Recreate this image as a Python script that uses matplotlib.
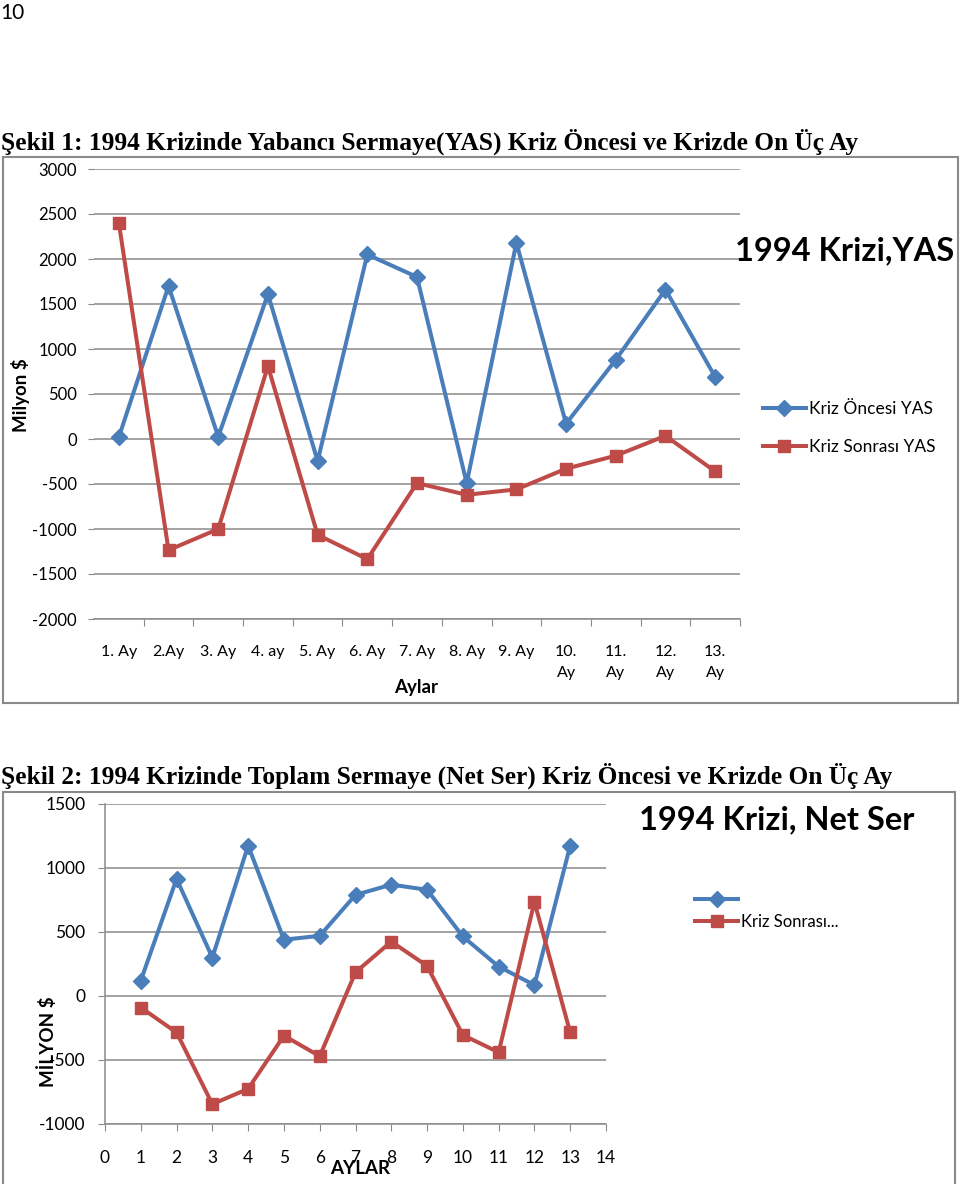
import numpy as np
import matplotlib
matplotlib.use("Agg")
import matplotlib.pyplot as plt
from matplotlib.patches import Rectangle

# figure 1: yabanci sermaye (YAS), milyon $
ay_etiket = ["1. Ay", "2.Ay", "3. Ay", "4. ay", "5. Ay", "6. Ay", "7. Ay",
             "8. Ay", "9. Ay", "10.\nAy", "11.\nAy", "12.\nAy", "13.\nAy"]
yas_oncesi = [20, 1700, 25, 1610, -245, 2050, 1800, -490, 2180, 170, 880, 1660, 690]
yas_sonrasi = [2400, -1235, -1000, 810, -1065, -1335, -490, -620, -560, -330, -185, 35, -360]

# figure 2: toplam sermaye (Net Ser), milyon $
ay_no = list(range(1, 14))
net_oncesi = [120, 915, 300, 1175, 440, 470, 790, 870, 830, 465, 230, 85, 1175]
net_sonrasi = [-90, -285, -845, -725, -310, -470, 185, 425, 235, -305, -440, 735, -285]

BLUE = "#4a7ebb"
RED = "#be4b48"
GRID = "#8a8a8a"
SANS = ["Lato", "DejaVu Sans"]
SERIF = ["Liberation Serif", "DejaVu Serif"]

W, H = 960, 1184
plt.rcParams["font.family"] = SANS
plt.rcParams["axes.unicode_minus"] = False


def fx(x):
    return x / W


def fy(y):
    return 1 - y / H


def box(l, t, r, b):
    return [fx(l), fy(b), (r - l) / W, (b - t) / H]


fig = plt.figure(figsize=(W / 100, H / 100), dpi=100)

fig.text(fx(0), fy(13), "10", ha="left", va="center", fontsize=15)

fig.text(fx(1), fy(142), "Şekil 1: 1994 Krizinde Yabancı Sermaye(YAS) Kriz Öncesi ve Krizde On Üç Ay",
         ha="left", va="center", fontsize=18.3, fontweight="bold", family=SERIF)
fig.text(fx(1), fy(776), "Şekil 2: 1994 Krizinde Toplam Sermaye (Net Ser) Kriz Öncesi ve Krizde On Üç Ay",
         ha="left", va="center", fontsize=18.3, fontweight="bold", family=SERIF)

# chart frames
fig.add_artist(Rectangle((fx(3), fy(703)), (958 - 3) / W, (703 - 157) / H,
                         transform=fig.transFigure, fill=False, edgecolor=GRID, lw=1.5))
fig.add_artist(Rectangle((fx(3), fy(1195)), (955 - 3) / W, (1195 - 792) / H,
                         transform=fig.transFigure, fill=False, edgecolor=GRID, lw=1.5))

# ---- top chart
ax1 = fig.add_axes(box(94, 169, 740, 619))
x = np.arange(1, 14)
l1, = ax1.plot(x, yas_oncesi, color=BLUE, lw=2.9, marker="D", ms=8, zorder=3)
l2, = ax1.plot(x, yas_sonrasi, color=RED, lw=2.9, marker="s", ms=9, zorder=3)
ax1.set_xlim(0.5, 13.5)
ax1.set_ylim(-2000, 3000)
ax1.set_yticks(range(-2000, 3001, 500))
ax1.set_xticks(np.arange(1.5, 13.6, 1))
ax1.set_xticks(x, minor=True)
ax1.set_xticklabels(ay_etiket, minor=True)
ax1.tick_params(axis="x", which="major", length=5, color=GRID, labelbottom=False)
ax1.tick_params(axis="x", which="minor", length=0, pad=19, labelsize=11.5)
for t in ax1.get_xticklabels(minor=True):
    t.set_linespacing(1.6)
ax1.tick_params(axis="y", length=4.5, color=GRID, pad=8, labelsize=12)
ax1.grid(axis="y", color=GRID, lw=1.1)
ax1.set_axisbelow(True)
for s in ["top", "right", "left"]:
    ax1.spines[s].set_visible(False)
ax1.spines["bottom"].set_color(GRID)
ax1.spines["bottom"].set_linewidth(1.1)

fig.text(fx(20), fy(395), "Milyon $", rotation=90, ha="center", va="center",
         fontsize=13.5, fontweight="bold")
fig.text(fx(416), fy(687), "Aylar", ha="center", va="center", fontsize=13.5, fontweight="bold")
fig.text(fx(735), fy(251), "1994 Krizi,YAS", ha="left", va="center", fontsize=23.5, fontweight="bold")
fig.legend([l1, l2], ["Kriz Öncesi YAS", "Kriz Sonrası YAS"], loc="center left",
           bbox_to_anchor=(fx(747), fy(428)), frameon=False, fontsize=12.5,
           handlelength=2.5, handletextpad=0.15, labelspacing=1.25, numpoints=1)

# ---- bottom chart
ax2 = fig.add_axes(box(105, 804, 606, 1124))
m1, = ax2.plot(ay_no, net_oncesi, color=BLUE, lw=2.9, marker="D", ms=8, zorder=3)
m2, = ax2.plot(ay_no, net_sonrasi, color=RED, lw=2.9, marker="s", ms=9, zorder=3)
ax2.set_xlim(0, 14)
ax2.set_ylim(-1000, 1500)
ax2.set_xticks(range(0, 15))
ax2.set_yticks(range(-1000, 1501, 500))
ax2.tick_params(axis="x", length=5, color=GRID, pad=14, labelsize=12.5)
ax2.tick_params(axis="y", length=5, color=GRID, pad=9, labelsize=12.5)
ax2.grid(axis="y", color=GRID, lw=1.1)
ax2.set_axisbelow(True)
for s in ["top", "right"]:
    ax2.spines[s].set_visible(False)
for s in ["bottom", "left"]:
    ax2.spines[s].set_color(GRID)
    ax2.spines[s].set_linewidth(1.1)

fig.text(fx(47), fy(1042), "MİLYON $", rotation=90, ha="center", va="center",
         fontsize=13.5, fontweight="bold")
fig.text(fx(360), fy(1168), "AYLAR", ha="center", va="center", fontsize=13.5, fontweight="bold")
fig.text(fx(639), fy(820), "1994 Krizi, Net Ser", ha="left", va="center", fontsize=23.5, fontweight="bold")
fig.legend([m1, m2], ["", "Kriz Sonrası..."], loc="center left",
           bbox_to_anchor=(fx(680), fy(911)), frameon=False, fontsize=12,
           handlelength=2.6, handletextpad=0.15, labelspacing=0.35, numpoints=1)

fig.savefig("out.png", dpi=100)
